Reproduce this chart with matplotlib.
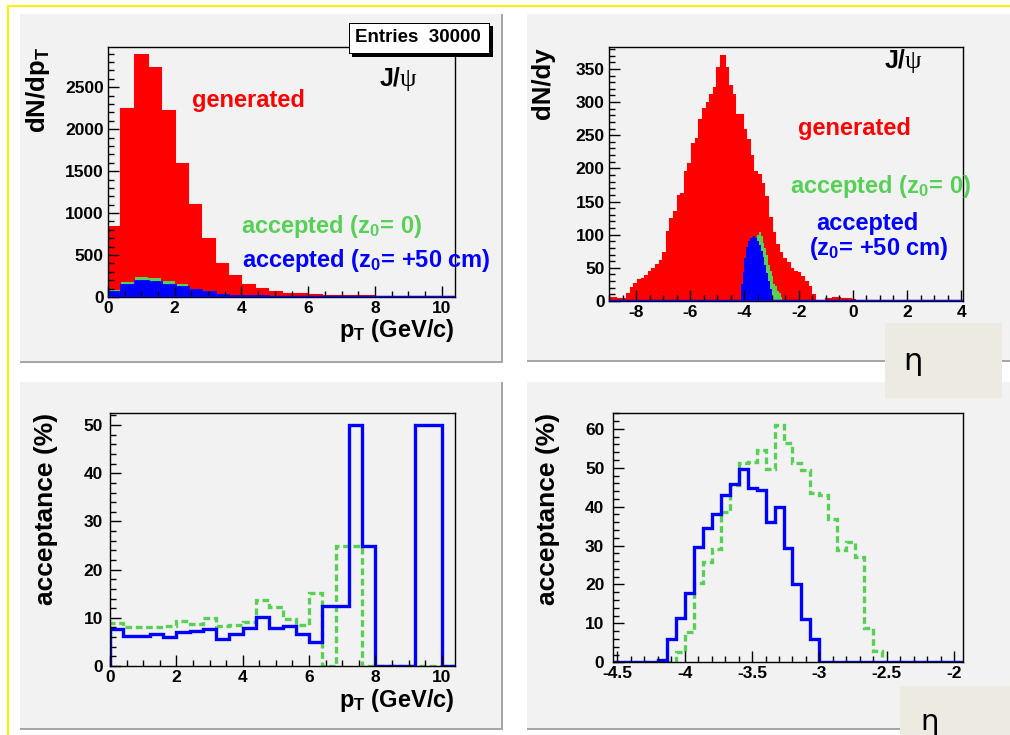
import numpy as np
import matplotlib
matplotlib.use("Agg")
import matplotlib.pyplot as plt
from matplotlib.patches import Rectangle
from matplotlib.ticker import MultipleLocator, FuncFormatter

# ---------------- data ----------------
# top-left: dN/dpT, 26 bins of 0.4 GeV/c from 0 to 10.4
pt_edges_lo, pt_bin = 0.0, 0.4
pt_generated = [836, 2237, 2886, 2735, 2221, 1584, 1095, 697, 390, 251, 147, 96, 60,
                40, 30, 22, 16, 12, 8, 6, 5, 4, 3, 3, 2, 2]
pt_acc_z0 = [78, 184, 238, 224, 185, 152, 98, 72, 34, 22, 13, 13, 7,
             4, 3, 3, 0, 3, 2, 0, 0, 0, 0, 0, 0, 0]
pt_acc_z50 = [64, 145, 186, 182, 138, 114, 82, 54, 23, 17, 12, 10, 5,
              3, 2, 1, 1, 1, 1, 1, 0, 0, 0, 1, 1, 0]

# top-right: dN/dy, generated in bins of 2/15 from -9
eta_gen_lo, eta_gen_bin = -9.0, 2.0 / 15
eta_generated = [4, 4, 3, 3, 3, 10, 20, 25, 32, 33,
                 38, 44, 48, 54, 61, 72, 104, 123, 134, 158,
                 162, 194, 207, 236, 244, 273, 290, 298, 311, 321,
                 351, 369, 351, 324, 310, 280, 280, 258, 243, 218,
                 195, 190, 177, 157, 125, 102, 84, 72, 64, 57,
                 49, 44, 42, 36, 29, 21, 9, 0, 0, 0,
                 3, 3, 4, 4, 3, 3, 3, 2] + [0] * 30
# accepted, bins of 1/15 starting at -4.1333
eta_acc_lo, eta_acc_bin = -62.0 / 15, 1.0 / 15
eta_acc_z0 = [0, 7, 21, 50, 62, 70, 88, 92, 95, 100, 104, 98, 88, 80, 69, 55,
              45, 37, 26, 22, 15, 12, 6, 2]
eta_acc_z50 = [25, 44, 65, 82, 90, 95, 97, 98, 95, 90, 84, 76, 66, 55, 42, 30, 18]

# bottom-left: acceptance (%) vs pT (same 26 bins)
acc_pt_z0 = [8.9, 8.1, 8.1, 8.1, 8.3, 9.4, 8.7, 9.9, 8.2, 8.5, 9.1, 13.6, 12.2,
             9.7, 8.6, 15.2, 0, 25, 25, 0, 0, 0, 0, 0, 0, 0]
acc_pt_z50 = [7.6, 6.3, 6.3, 6.6, 6.1, 7.05, 7.3, 7.6, 5.7, 6.6, 7.95, 10.2, 7.95,
              8.2, 6.7, 4.9, 12.5, 12.5, 50, 25, 0, 0, 0, 50, 50, 0]

# bottom-right: acceptance (%) vs eta, 39 bins of 1/15 from -4.5333
acc_eta_lo, acc_eta_bin = -68.0 / 15, 1.0 / 15
acc_eta_z0 = [0, 0, 0, 0, 0, 0, 0, 2.7, 7.9, 20.3, 25.9, 29.1, 38.7, 45.6, 51.2,
              51.6, 54.6, 49.8, 61, 56.3, 51.3, 49.4, 43.4, 43, 36.8, 28.9, 30.8,
              27.1, 8.9, 2.9, 0, 0, 0, 0, 0, 0, 0, 0, 0]
acc_eta_z50 = [0, 0, 0, 0, 0, 0.5, 5.9, 11.3, 17.7, 29.7, 34.4, 38.1, 42.9, 45.8,
               49.7, 44.7, 44.3, 36.1, 39.8, 29.3, 20.0, 11.1, 5.9,
               0, 0, 0, 0, 0, 0, 0, 0, 0, 0, 0, 0, 0, 0, 0, 0]


def edges(lo, width, n):
    return lo + width * np.arange(n + 1)


# ---------------- style ----------------
plt.rcParams['font.family'] = ['Liberation Sans', 'DejaVu Sans']
plt.rcParams['font.weight'] = 'bold'
plt.rcParams['axes.unicode_minus'] = False
plt.rcParams['mathtext.fontset'] = 'custom'
plt.rcParams['mathtext.rm'] = 'Liberation Sans:bold'
plt.rcParams['mathtext.it'] = 'Liberation Sans:bold'
plt.rcParams['mathtext.bf'] = 'Liberation Sans:bold'

RED = '#ff0000'
GREEN = '#58d058'
BLUE = '#0000ff'
PANEL = '#f2f2f2'

W, H = 1010, 735
fig = plt.figure(figsize=(W / 100, H / 100), dpi=100)
fig.patch.set_facecolor('white')


def P(x, y):
    return x / W, 1 - y / H


def rect(x0, y0, x1, y1):
    return [x0 / W, 1 - y1 / H, (x1 - x0) / W, (y1 - y0) / H]


def add_rect(x0, y0, x1, y1, color, z=-5):
    fx, fy = P(x0, y1)
    fig.add_artist(Rectangle((fx, fy), (x1 - x0) / W, (y1 - y0) / H,
                             transform=fig.transFigure, facecolor=color,
                             edgecolor='none', zorder=z))


# yellow slide guide lines
add_rect(9, 5, W, 7, '#f6f200', z=-6)
add_rect(7, 5, 9, H, '#f6f200', z=-6)

# canvas panels with bevel
for (x0, y0, x1, y1) in [(18, 12, 503, 363), (525, 12, 1012, 362),
                         (18, 380, 503, 730), (525, 380, 1012, 730)]:
    add_rect(x0, y0, x1, y1, PANEL, z=-5)
    add_rect(x0, y1 - 2, x1, y1, '#a6a6a6', z=-4)
    add_rect(x1 - 2, y0, x1, y1, '#a6a6a6', z=-4)
    add_rect(x0, y0, x1, y0 + 2, '#ffffff', z=-4)
    add_rect(x0, y0, x0 + 2, y1, '#ffffff', z=-4)


def style(ax, xmaj, xmin, ymaj, ymin, ypad=3):
    ax.set_facecolor(PANEL)
    ax.xaxis.set_major_locator(MultipleLocator(xmaj))
    ax.xaxis.set_minor_locator(MultipleLocator(xmin))
    ax.yaxis.set_major_locator(MultipleLocator(ymaj))
    ax.yaxis.set_minor_locator(MultipleLocator(ymin))
    fmt = FuncFormatter(lambda v, p: f'{v:g}')
    ax.xaxis.set_major_formatter(fmt)
    ax.yaxis.set_major_formatter(fmt)
    ax.tick_params(which='both', direction='in', top=False, right=False,
                   labelsize=12.5, width=1, colors='black')
    ax.tick_params(which='major', length=8)
    ax.tick_params(which='minor', length=4.5)
    ax.tick_params(axis='y', pad=ypad)
    ax.tick_params(axis='x', pad=3)
    for lab in ax.get_xticklabels() + ax.get_yticklabels():
        lab.set_fontweight('bold')
    for s in ax.spines.values():
        s.set_linewidth(1.0)
        s.set_color('black')


# ---------------- top-left ----------------
ax1 = fig.add_axes(rect(108, 47, 455, 297))
e_pt = edges(pt_edges_lo, pt_bin, len(pt_generated))
ax1.stairs(pt_generated, e_pt, fill=True, color=RED, lw=0)
ax1.stairs(pt_acc_z0, e_pt, fill=True, color=GREEN, lw=0)
ax1.stairs(pt_acc_z50, e_pt, fill=True, color=BLUE, lw=0)
ax1.stairs(pt_generated, e_pt, color=RED, lw=1.5)
ax1.stairs(pt_acc_z50, e_pt, color=BLUE, lw=2)
ax1.axhline(0, color=BLUE, lw=2.5, zorder=3)
ax1.set_xlim(0, 10.4)
ax1.set_ylim(0, 2980)
style(ax1, 2, 0.5, 500, 100)

# ---------------- top-right ----------------
ax2 = fig.add_axes(rect(609, 47, 963, 301))
e_gen = edges(eta_gen_lo, eta_gen_bin, len(eta_generated))
e_a0 = edges(eta_acc_lo, eta_acc_bin, len(eta_acc_z0))
e_a50 = edges(eta_acc_lo, eta_acc_bin, len(eta_acc_z50))
ax2.stairs(eta_generated, e_gen, fill=True, color=RED, lw=0)
ax2.stairs(eta_generated, e_gen, color=RED, lw=1.5)
ax2.stairs(eta_acc_z0, e_a0, fill=True, color=GREEN, lw=0)
ax2.stairs(eta_acc_z50, e_a50, fill=True, color=BLUE, lw=0)
ax2.axhline(0, color=BLUE, lw=2.5, zorder=3)
ax2.set_xlim(-9, 4.0667)
ax2.set_ylim(0, 383)
style(ax2, 2, 0.5, 50, 10)

# ---------------- bottom-left ----------------
ax3 = fig.add_axes(rect(110, 413, 455, 666))
ax3.stairs(acc_pt_z0, e_pt, color=GREEN, lw=2.4, linestyle=(0, (2, 1.1)))
ax3.stairs(acc_pt_z50, e_pt, color=BLUE, lw=2.4)
ax3.set_xlim(0, 10.4)
ax3.set_ylim(0, 52.5)
style(ax3, 2, 0.5, 10, 2, ypad=5)

# ---------------- bottom-right ----------------
ax4 = fig.add_axes(rect(612.7, 413.3, 963.3, 662.3))
e_acc = edges(acc_eta_lo, acc_eta_bin, len(acc_eta_z0))
ax4.stairs(acc_eta_z0, e_acc, color=GREEN, lw=2.4, linestyle=(0, (2, 1.1)))
ax4.stairs(acc_eta_z50, e_acc, color=BLUE, lw=2.4)
ax4.set_xlim(-68.0 / 15, -29.0 / 15)
ax4.set_ylim(0, 64)
style(ax4, 0.5, 0.1, 10, 2, ypad=6)

# ---------------- texts ----------------
def T(x, y, s, **kw):
    fx, fy = P(x, y)
    kw.setdefault('fontweight', 'bold')
    return fig.text(fx, fy, s, **kw)

# axis titles
T(38, 47, r'dN/dp$_\mathrm{T}$', rotation=90, ha='center', va='top', fontsize=18.5)
T(543, 47, 'dN/dy', rotation=90, ha='center', va='top', fontsize=18.5)
T(46, 413, 'acceptance (%)', rotation=90, ha='center', va='top', fontsize=19)
T(548, 413, 'acceptance (%)', rotation=90, ha='center', va='top', fontsize=19)
T(455, 337, r'p$_\mathrm{T}$ (GeV/c)', ha='right', va='baseline', fontsize=17)
T(455, 707, r'p$_\mathrm{T}$ (GeV/c)', ha='right', va='baseline', fontsize=17)

# legends as text
T(192, 107, 'generated', color=RED, fontsize=17, va='baseline')
T(241, 233, r'accepted (z$_0$= 0)', color=GREEN, fontsize=17, va='baseline')
T(242, 267, r'accepted (z$_0$= +50 cm)', color=BLUE, fontsize=17, va='baseline')
T(798, 135, 'generated', color=RED, fontsize=17, va='baseline')
T(790, 193, r'accepted (z$_0$= 0)', color=GREEN, fontsize=17, va='baseline')
T(816, 230, 'accepted', color=BLUE, fontsize=17, va='baseline')
T(809, 255, r'(z$_0$= +50 cm)', color=BLUE, fontsize=17, va='baseline')

# J/psi
for (x, y) in [(400, 86), (905, 68)]:
    T(x, y, 'J/', ha='right', va='baseline', fontsize=18)
    T(x, y, 'ψ', ha='left', va='baseline', fontsize=19, fontweight='normal',
      family=['Liberation Serif', 'DejaVu Serif'])

# Entries stats box
add_rect(352, 26, 493, 57, 'black', z=2)
add_rect(349, 23, 490, 54, 'black', z=2.1)
add_rect(350, 24, 489, 53, 'white', z=2.2)
T(355, 42, 'Entries  30000', fontsize=13.5, va='baseline', zorder=4)

# eta label boxes
add_rect(885, 323, 1002, 398, '#edebe1', z=5)
T(913, 361, 'η', ha='center', va='center', fontsize=22, fontweight='normal',
  family=['DejaVu Sans'], zorder=6)
add_rect(900, 686, 1012, 737, '#edebe1', z=5)
T(930, 708, 'η', ha='center', va='top', fontsize=21, fontweight='normal',
  family=['DejaVu Sans'], zorder=6)

fig.savefig('out.png', dpi=100)
